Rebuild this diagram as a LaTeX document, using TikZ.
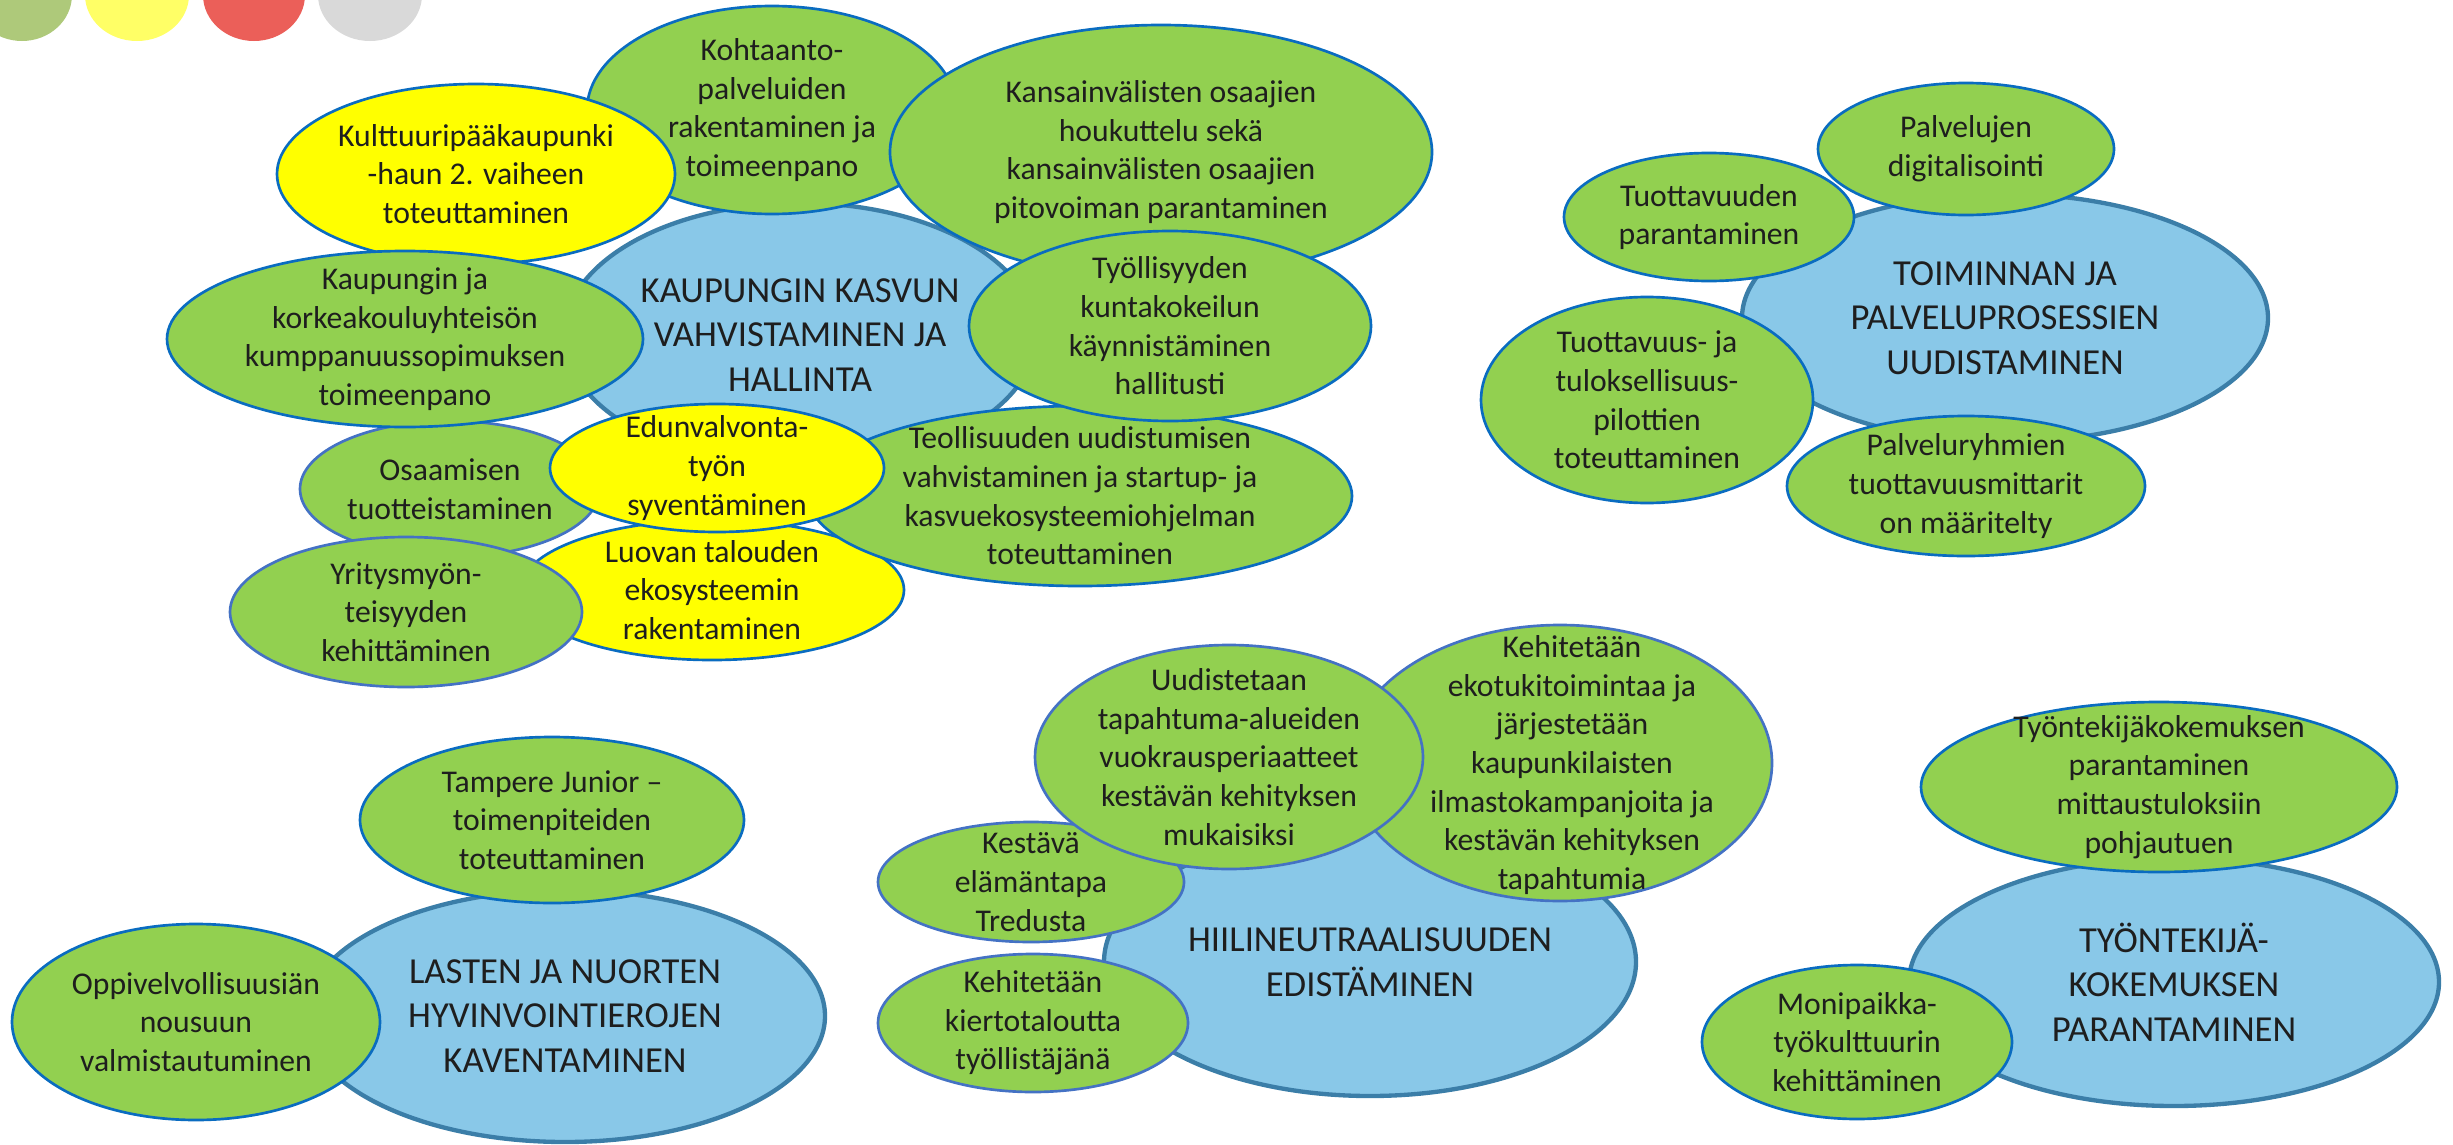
\documentclass[tikz,border=0pt]{standalone}
\usepackage{fontspec}
\setmainfont{Carlito}
\usetikzlibrary{shapes.geometric}
\definecolor{gfill}{HTML}{92D050}
\definecolor{yfill}{HTML}{FFFF00}
\definecolor{bfill}{HTML}{89C8E8}
\definecolor{bline}{HTML}{3B7EA8}
\definecolor{oline}{HTML}{0A6CC0}
\definecolor{lline}{HTML}{4472C4}
\definecolor{tcol}{HTML}{1E1E1E}
\definecolor{dotg}{HTML}{AEC97A}
\definecolor{doty}{HTML}{FFFF66}
\definecolor{dotr}{HTML}{EB5F59}
\definecolor{dotgr}{HTML}{D9D9D9}
\tikzset{
  bub/.style n args={2}{ellipse, minimum width=#1*0.6pt, minimum height=#2*0.6pt, inner sep=0pt, draw=oline, line width=0.8pt, fill=gfill},
  yel/.style={fill=yfill},
  lav/.style={draw=lline},
  hub/.style={fill=bfill, draw=bline, line width=1.3pt},
  dot/.style n args={2}{ellipse, minimum width=#1*0.6pt, minimum height=#2*0.6pt, inner sep=0pt, draw=none},
  txt/.style={align=center, font=\fontsize{9.5}{11.6}\selectfont, text=tcol, inner sep=0pt},
  headtxt/.style={align=center, font=\fontsize{11}{13.4}\selectfont, text=tcol, inner sep=0pt}
}
\newcommand\Bubble[7]{%
  \node[bub={#4}{#5},#6] (#1) at (#2,#3) {};
  \node[txt] (#1-t) at (#1.center) {#7};}
\newcommand\Hub[6]{%
  \node[bub={#4}{#5},hub] (#1) at (#2,#3) {};
  \node[headtxt] (#1-t) at (#1.center) {#6};}
\begin{document}
\begin{tikzpicture}[x=0.3pt,y=-0.3pt]
\useasboundingbox (0,0) rectangle (2453,1145);
\clip (0,0) rectangle (2453,1145);
% legend dots
\node[dot={50}{46}, fill=dotg] (d1) at (22,-5) {};
\node[dot={52}{46}, fill=doty] (d2) at (137,-5) {};
\node[dot={51}{46}, fill=dotr] (d3) at (254,-5) {};
\node[dot={52}{46}, fill=dotgr] (d4) at (370,-5) {};
% cluster 1
\Hub{hubK}{800}{335}{236}{132}{KAUPUNGIN KASVUN\\VAHVISTAMINEN JA\\HALLINTA}
\Bubble{luova}{712}{590}{192}{70}{yel}{Luovan talouden\\ekosysteemin\\rakentaminen}
\Bubble{osaam}{450}{489}{150}{68}{lav}{Osaamisen\\tuotteistaminen}
\Bubble{yritys}{406}{612}{176}{75}{lav}{Yritysmyön-\\teisyyden\\kehittäminen}
\Bubble{teoll}{1080}{496}{272}{90}{}{Teollisuuden uudistumisen\\vahvistaminen ja startup- ja\\kasvuekosysteemiohjelman\\toteuttaminen}
\Bubble{kohta}{772}{110}{185}{104}{}{Kohtaanto-\\palveluiden\\rakentaminen ja\\toimeenpano}
\Bubble{kansa}{1161}{152}{271}{127}{}{Kansainvälisten osaajien\\houkuttelu sekä\\kansainvälisten osaajien\\pitovoiman parantaminen}
\Bubble{tyoll}{1170}{326}{201}{95}{}{Työllisyyden\\kuntakokeilun\\käynnistäminen\\hallitusti}
\Bubble{kultt}{476}{174}{199}{90}{yel}{Kulttuuripääkaupunki\\-haun 2. vaiheen\\toteuttaminen}
\Bubble{kaupja}{405}{339}{238}{88}{}{Kaupungin ja\\korkeakouluyhteisön\\kumppanuussopimuksen\\toimeenpano}
\Bubble{edun}{717}{468}{167}{64}{yel}{Edunvalvonta-\\työn\\syventäminen}
% cluster 2
\Hub{hubT}{2005}{318}{263}{124}{TOIMINNAN JA\\PALVELUPROSESSIEN\\UUDISTAMINEN}
\Bubble{palv}{1966}{149}{148}{66}{}{Palvelujen\\digitalisointi}
\Bubble{tuott}{1709}{217}{145}{64}{}{Tuottavuuden\\parantaminen}
\Bubble{tulos}{1647}{400}{166}{103}{}{Tuottavuus- ja\\tuloksellisuus-\\pilottien\\toteuttaminen}
\Bubble{palvr}{1966}{486}{179}{70}{}{Palveluryhmien\\tuottavuusmittarit\\on määritelty}
% cluster 3
\Hub{hubL}{565}{1016}{260}{126}{LASTEN JA NUORTEN\\HYVINVOINTIEROJEN\\KAVENTAMINEN}
\Bubble{tamp}{552}{820}{192}{83}{}{Tampere Junior –\\toimenpiteiden\\toteuttaminen}
\Bubble{oppi}{196}{1022}{184}{98}{}{Oppivelvollisuusiän\\nousuun\\valmistautuminen}
% cluster 4
\Hub{hubH}{1370}{962}{266}{134}{HIILINEUTRAALISUUDEN\\EDISTÄMINEN}
\node[bub={212}{138},lav] (eko) at (1560,763) {};
\node[txt] (eko-t) at (1572,765) {Kehitetään\\ekotukitoimintaa ja\\järjestetään\\kaupunkilaisten\\ilmastokampanjoita ja\\kestävän kehityksen\\tapahtumia};
\Bubble{kest}{1031}{882}{153}{60}{lav}{Kestävä\\elämäntapa\\Tredusta}
\Bubble{uudis}{1229}{757}{194}{112}{lav}{Uudistetaan\\tapahtuma-alueiden\\vuokrausperiaatteet\\kestävän kehityksen\\mukaisiksi}
\Bubble{kierto}{1033}{1023}{155}{69}{lav}{Kehitetään\\kiertotaloutta\\työllistäjänä}
% cluster 5
\Hub{hubY}{2174}{982}{265}{124}{TYÖNTEKIJÄ-\\KOKEMUKSEN\\PARANTAMINEN}
\Bubble{tkok}{2159}{787}{238}{85}{}{Työntekijäkokemuksen\\parantaminen\\mittaustuloksiin\\pohjautuen}
\Bubble{moni}{1857}{1042}{155}{77}{}{Monipaikka-\\työkulttuurin\\kehittäminen}
\end{tikzpicture}
\end{document}
